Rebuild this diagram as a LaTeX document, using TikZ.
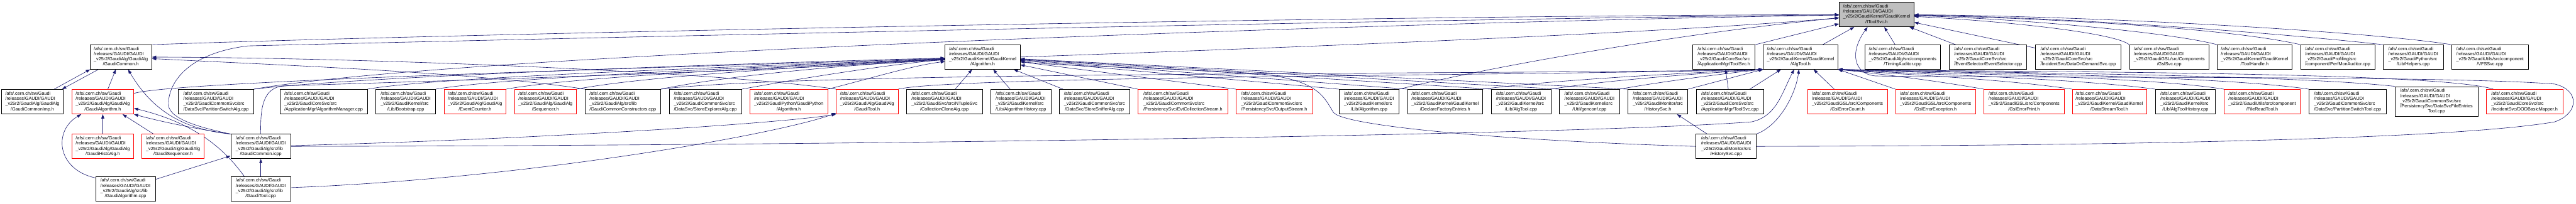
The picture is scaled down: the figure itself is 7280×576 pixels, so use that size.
\documentclass[tikz,border=0pt]{standalone}
\usepackage{fontspec}
\setmainfont{Liberation Sans}
\usetikzlibrary{arrows.meta}
\definecolor{edgecol}{HTML}{191970}
\definecolor{rootfill}{HTML}{BFBFBF}
\pgfdeclarelayer{back}
\pgfdeclarelayer{bg}
\pgfsetlayers{back,bg,main}
\newcommand{\lab}[2]{\begin{tabular}{@{}l@{}}/afs/.cern.ch/sw/Gaudi\\/releases/GAUDI/GAUDI\\\_v25r2/#1\\\multicolumn{1}{@{}c@{}}{#2}\end{tabular}}
\newcommand{\nd}[7]{\node[#6,minimum width={(#4)-(#2)},minimum height={(#5)-(#3)}] (#1) at ({((#2)+(#4))/2},{((#3)+(#5))/2}) {#7};}
\tikzset{
  box/.style={rectangle, draw=black, fill=white, line width=1.2pt, inner sep=0pt, text=black, font=\fontsize{12.9}{14.7}\selectfont},
  rbox/.style={box, draw=red},
  gbox/.style={box, fill=rootfill},
  edg/.style={draw=edgecol, line width=1.1pt, -{Triangle[length=12pt,width=8.5pt]}},
}
\begin{document}
\begin{tikzpicture}[x=1pt,y=-1pt]
\useasboundingbox (0,0) rectangle (7280,576);
\begin{pgfonlayer}{back}
\fill[white] (0,0) rectangle (7280,576);
\end{pgfonlayer}
% row 0
\nd{itool}{5198}{6}{5409}{76}{gbox}{\lab{GaudiKernel/GaudiKernel}{/IToolSvc.h}}
% row 1
\nd{gcomh}{254}{127}{429}{196}{box}{\lab{GaudiAlg/GaudiAlg}{/GaudiCommon.h}}
\nd{algh}{2671}{127}{2883}{196}{box}{\lab{GaudiKernel/GaudiKernel}{/Algorithm.h}}
\nd{toolsvch}{4784}{127}{4960}{196}{box}{\lab{GaudiCoreSvc/src}{/ApplicationMgr/ToolSvc.h}}
\nd{algtoolh}{4983}{127}{5194}{196}{box}{\lab{GaudiKernel/GaudiKernel}{/AlgTool.h}}
\nd{timing}{5270}{127}{5484}{196}{box}{\lab{GaudiAlg/src/components}{/TimingAuditor.cpp}}
\nd{evtsel}{5509}{127}{5728}{196}{box}{\lab{GaudiCoreSvc/src}{/EventSelector/EventSelector.cpp}}
\nd{dod}{5752}{127}{5994}{196}{box}{\lab{GaudiCoreSvc/src}{/IncidentSvc/DataOnDemandSvc.cpp}}
\nd{gslsvc}{6018}{127}{6243}{196}{box}{\lab{GaudiGSL/src/Components}{/GslSvc.cpp}}
\nd{toolhandle}{6266}{127}{6477}{196}{box}{\lab{GaudiKernel/GaudiKernel}{/ToolHandle.h}}
\nd{perfmon}{6502}{127}{6711}{196}{box}{\lab{GaudiProfiling/src}{/component/PerfMonAuditor.cpp}}
\nd{helpers}{6735}{127}{6905}{196}{box}{\lab{GaudiPython/src}{/Lib/Helpers.cpp}}
\nd{vfs}{6929}{127}{7145}{196}{box}{\lab{GaudiUtils/src/component}{/VFSSvc.cpp}}
% row 2
\nd{gcomimp}{4}{253}{179}{323}{box}{\lab{GaudiAlg/GaudiAlg}{/GaudiCommonImp.h}}
\nd{galgh}{203}{253}{378}{323}{rbox}{\lab{GaudiAlg/GaudiAlg}{/GaudiAlgorithm.h}}
\nd{partalg}{504}{253}{717}{323}{box}{\lab{GaudiCommonSvc/src}{/DataSvc/PartitionSwitchAlg.cpp}}
\nd{algmgr}{791}{253}{1038}{323}{box}{\lab{GaudiCoreSvc/src}{/ApplicationMgr/AlgorithmManager.cpp}}
\nd{bootstrap}{1062}{253}{1231}{323}{box}{\lab{GaudiKernel/src}{/Lib/Bootstrap.cpp}}
\nd{evtcounter}{1255}{253}{1430}{323}{rbox}{\lab{GaudiAlg/GaudiAlg}{/EventCounter.h}}
\nd{sequencer}{1454}{253}{1629}{323}{rbox}{\lab{GaudiAlg/GaudiAlg}{/Sequencer.h}}
\nd{gcomctor}{1653}{253}{1867}{323}{box}{\lab{GaudiAlg/src/lib}{/GaudiCommonConstructors.cpp}}
\nd{storeexp}{1891}{253}{2096}{323}{box}{\lab{GaudiCommonSvc/src}{/DataSvc/StoreExplorerAlg.cpp}}
\nd{pyalg}{2119}{253}{2339}{323}{rbox}{\lab{GaudiPython/GaudiPython}{/Algorithm.h}}
\nd{gtoolh}{2363}{253}{2538}{323}{rbox}{\lab{GaudiAlg/GaudiAlg}{/GaudiTool.h}}
\nd{collclone}{2562}{253}{2776}{323}{box}{\lab{GaudiSvc/src/NTupleSvc}{/CollectionCloneAlg.cpp}}
\nd{alghist}{2800}{253}{2970}{323}{box}{\lab{GaudiKernel/src}{/Lib/AlgorithmHistory.cpp}}
\nd{storesniff}{2994}{253}{3192}{323}{box}{\lab{GaudiCommonSvc/src}{/DataSvc/StoreSnifferAlg.cpp}}
\nd{evtcollstream}{3216}{253}{3470}{323}{rbox}{\lab{GaudiCommonSvc/src}{/PersistencySvc/EvtCollectionStream.h}}
\nd{outstream}{3493}{253}{3709}{323}{rbox}{\lab{GaudiCommonSvc/src}{/PersistencySvc/OutputStream.h}}
\nd{libalg}{3784}{253}{3954}{323}{box}{\lab{GaudiKernel/src}{/Lib/Algorithm.cpp}}
\nd{declfact}{3978}{253}{4190}{323}{box}{\lab{GaudiKernel/GaudiKernel}{/DeclareFactoryEntries.h}}
\nd{algtoolcpp}{4214}{253}{4383}{323}{box}{\lab{GaudiKernel/src}{/Lib/AlgTool.cpp}}
\nd{genconf}{4407}{253}{4577}{323}{box}{\lab{GaudiKernel/src}{/Util/genconf.cpp}}
\nd{histsvch}{4600}{253}{4770}{323}{box}{\lab{GaudiMonitor/src}{/HistorySvc.h}}
\nd{toolsvccpp}{4794}{253}{4984}{323}{box}{\lab{GaudiCoreSvc/src}{/ApplicationMgr/ToolSvc.cpp}}
\nd{gslcount}{5108}{253}{5334}{323}{rbox}{\lab{GaudiGSL/src/Components}{/GslErrorCount.h}}
\nd{gslexc}{5357}{253}{5583}{323}{rbox}{\lab{GaudiGSL/src/Components}{/GslErrorException.h}}
\nd{gslprint}{5607}{253}{5833}{323}{rbox}{\lab{GaudiGSL/src/Components}{/GslErrorPrint.h}}
\nd{datastream}{5856}{253}{6066}{323}{rbox}{\lab{GaudiKernel/GaudiKernel}{/DataStreamTool.h}}
\nd{algtoolhist}{6091}{253}{6261}{323}{box}{\lab{GaudiKernel/src}{/Lib/AlgToolHistory.cpp}}
\nd{filereadtool}{6285}{253}{6501}{323}{rbox}{\lab{GaudiUtils/src/component}{/FileReadTool.h}}
\nd{parttool}{6525}{253}{6744}{323}{box}{\lab{GaudiCommonSvc/src}{/DataSvc/PartitionSwitchTool.cpp}}
\nd{dsfet}{6768}{245}{7003}{330}{box}{\begin{tabular}{@{}l@{}}/afs/.cern.ch/sw/Gaudi\\/releases/GAUDI/GAUDI\\\_v25r2/GaudiCommonSvc/src\\/PersistencySvc/DataSvcFileEntries\\\multicolumn{1}{@{}c@{}}{Tool.cpp}\end{tabular}}
\nd{dodmapper}{7026}{253}{7243}{323}{rbox}{\lab{GaudiCoreSvc/src}{/IncidentSvc/DODBasicMapper.h}}
% row 3
\nd{histoalg}{203}{380}{378}{449}{rbox}{\lab{GaudiAlg/GaudiAlg}{/GaudiHistoAlg.h}}
\nd{gseq}{401}{380}{577}{449}{rbox}{\lab{GaudiAlg/GaudiAlg}{/GaudiSequencer.h}}
\nd{gcomicpp}{652}{380}{822}{449}{box}{\lab{GaudiAlg/src/lib}{/GaudiCommon.icpp}}
\nd{histsvccpp}{4793}{380}{4963}{449}{box}{\lab{GaudiMonitor/src}{/HistorySvc.cpp}}
% row 4
\nd{galgcpp}{270}{500}{439}{569}{box}{\lab{GaudiAlg/src/lib}{/GaudiAlgorithm.cpp}}
\nd{gtoolcpp}{652}{500}{822}{569}{box}{\lab{GaudiAlg/src/lib}{/GaudiTool.cpp}}

\begin{pgfonlayer}{bg}
% ---- into IToolSvc.h
\draw[edg] (gcomh.north east) .. controls (1300,95) and (3800,45) .. (itool);
\draw[edg] (gcomicpp.north west) .. controls (560,360) and (470,335) .. (476,290) .. controls (480,225) and (540,150) .. (700,130) .. controls (1600,108) and (4000,54) .. (itool);
\draw[edg] (partalg.north east) .. controls (1300,150) and (4000,62) .. (itool);
\draw[edg] (algh.east) .. controls (3500,140) and (4700,95) .. (itool);
\draw[edg] (libalg.north east) .. controls (4250,180) and (4800,88) .. (itool);
\draw[edg] (toolsvch.north east) -- (itool);
\draw[edg] (algtoolh) -- (itool);
\draw[edg] (timing) -- (itool);
\draw[edg] (evtsel) -- (itool);
\draw[edg] (dod) -- (itool);
\draw[edg] (gslsvc.north west) .. controls (5980,95) and (5700,62) .. (itool);
\draw[edg] (toolhandle.north west) .. controls (6150,95) and (5750,55) .. (itool);
\draw[edg] (perfmon.north west) .. controls (6300,80) and (5800,52) .. (itool);
\draw[edg] (helpers.north west) .. controls (6500,100) and (5900,50) .. (itool);
\draw[edg] (vfs.north west) .. controls (6700,90) and (5950,46) .. (itool);
\draw[edg] (histsvccpp.east) .. controls (5800,413) and (6900,400) .. (7220,345) .. controls (7290,320) and (7290,255) .. (7220,238) .. controls (6900,212) and (5600,222) .. (5300,215) .. controls (5240,210) and (5225,150) .. (itool);
% ---- into Algorithm.h
\draw[edg] (galgh.15) .. controls (500,228) and (2000,188) .. (algh);
\draw[edg] (partalg.north east) .. controls (1000,218) and (2000,182) .. (algh);
\draw[edg] (gcomicpp.north) .. controls (735,300) and (745,250) .. (800,243) .. controls (1400,225) and (2300,195) .. (algh);
\draw[edg] (algmgr.north east) .. controls (1250,215) and (2200,186) .. (algh);
\draw[edg] (bootstrap.north east) .. controls (1450,215) and (2300,185) .. (algh);
\draw[edg] (evtcounter.north east) .. controls (1650,212) and (2400,182) .. (algh);
\draw[edg] (sequencer.north east) .. controls (1850,210) and (2450,180) .. (algh);
\draw[edg] (gcomctor.north east) .. controls (2100,205) and (2500,178) .. (algh);
\draw[edg] (storeexp.north east) .. controls (2300,215) and (2550,178) .. (algh);
\draw[edg] (pyalg.north east) .. controls (2450,225) and (2580,185) .. (algh);
\draw[edg] (collclone) -- (algh);
\draw[edg] (alghist) -- (algh);
\draw[edg] (storesniff) -- (algh);
\draw[edg] (evtcollstream.north west) -- (algh);
\draw[edg] (outstream.north west) -- (algh);
\draw[edg] (libalg.north west) -- (algh);
\draw[edg] (declfact.north west) -- (algh);
\draw[edg] (algtoolcpp.north west) -- (algh);
\draw[edg] (genconf.north west) -- (algh);
\draw[edg] (histsvch.north west) -- (algh);
\draw[edg] (histsvccpp.west) .. controls (4300,400) and (3800,360) .. (3768,318) .. controls (3740,270) and (3720,225) .. (3550,208) .. controls (3300,192) and (3000,188) .. (algh);
% ---- into AlgTool.h
\draw[edg] (gcomctor.north east) .. controls (2300,200) and (4300,212) .. (algtoolh.south west);
\draw[edg] (gtoolh.north east) .. controls (2700,215) and (4300,215) .. (algtoolh.south west);
\draw[edg] (declfact.north east) .. controls (4400,225) and (4800,205) .. (algtoolh.south west);
\draw[edg] (algtoolcpp.north east) .. controls (4550,225) and (4850,205) .. (algtoolh.south west);
\draw[edg] (genconf.north east) .. controls (4700,230) and (4900,205) .. (algtoolh.south west);
\draw[edg] (histsvch.north east) -- (algtoolh.south west);
\draw[edg] (toolsvccpp) -- (algtoolh);
\draw[edg] (gcomicpp.east) .. controls (2500,412) and (4500,380) .. (4950,345) .. controls (5020,330) and (5035,265) .. (algtoolh);
\draw[edg] (histsvccpp.north east) .. controls (5030,355) and (5075,265) .. (algtoolh);
\draw[edg] (gslcount) -- (algtoolh);
\draw[edg] (gslexc.north west) -- (algtoolh.south east);
\draw[edg] (gslprint.north west) .. controls (5450,225) and (5300,208) .. (algtoolh.south east);
\draw[edg] (datastream.north west) .. controls (5650,222) and (5350,210) .. (algtoolh.south east);
\draw[edg] (algtoolhist.north west) .. controls (5850,220) and (5400,210) .. (algtoolh.south east);
\draw[edg] (filereadtool.north west) .. controls (6050,215) and (5450,208) .. (algtoolh.south east);
\draw[edg] (parttool.north west) .. controls (6250,212) and (5500,206) .. (algtoolh.south east);
\draw[edg] (dsfet.north west) .. controls (6450,210) and (5550,205) .. (algtoolh.south east);
\draw[edg] (dodmapper.158) .. controls (6880,200) and (5600,204) .. (algtoolh.south east);
% ---- others
\draw[edg] (toolsvccpp) -- (toolsvch);
\draw[edg] (histsvccpp) -- (histsvch);
\draw[edg] (galgh) -- (gcomh);
\draw[edg] (gcomimp.30) -- (gcomh.202);
\draw[edg] (gcomh.209) -- (gcomimp.23);
\draw[edg] (gtoolh.north west) .. controls (2000,200) and (1000,163) .. (gcomh);
\draw[edg] (gcomctor.north west) .. controls (1350,205) and (800,185) .. (gcomh);
\draw[edg] (gcomicpp.north west) .. controls (540,368) and (440,330) .. (gcomh);
\draw[edg] (histoalg) -- (galgh);
\draw[edg] (gseq) -- (galgh);
\draw[edg] (galgcpp.160) .. controls (160,480) and (150,370) .. (galgh);
\draw[edg] (gcomicpp.north west) .. controls (520,360) and (420,335) .. (galgh.south east);
\draw[edg] (gtoolcpp.143) .. controls (640,430) and (560,350) .. (galgh.348);
\draw[edg] (galgcpp) -- (gcomicpp);
\draw[edg] (gtoolcpp) -- (gcomicpp);
\draw[edg] (gcomicpp) .. controls (1500,395) and (2200,350) .. (gtoolh.south west);
\draw[edg] (gtoolcpp) .. controls (1500,505) and (2200,380) .. (gtoolh);
\end{pgfonlayer}
\end{tikzpicture}
\end{document}
